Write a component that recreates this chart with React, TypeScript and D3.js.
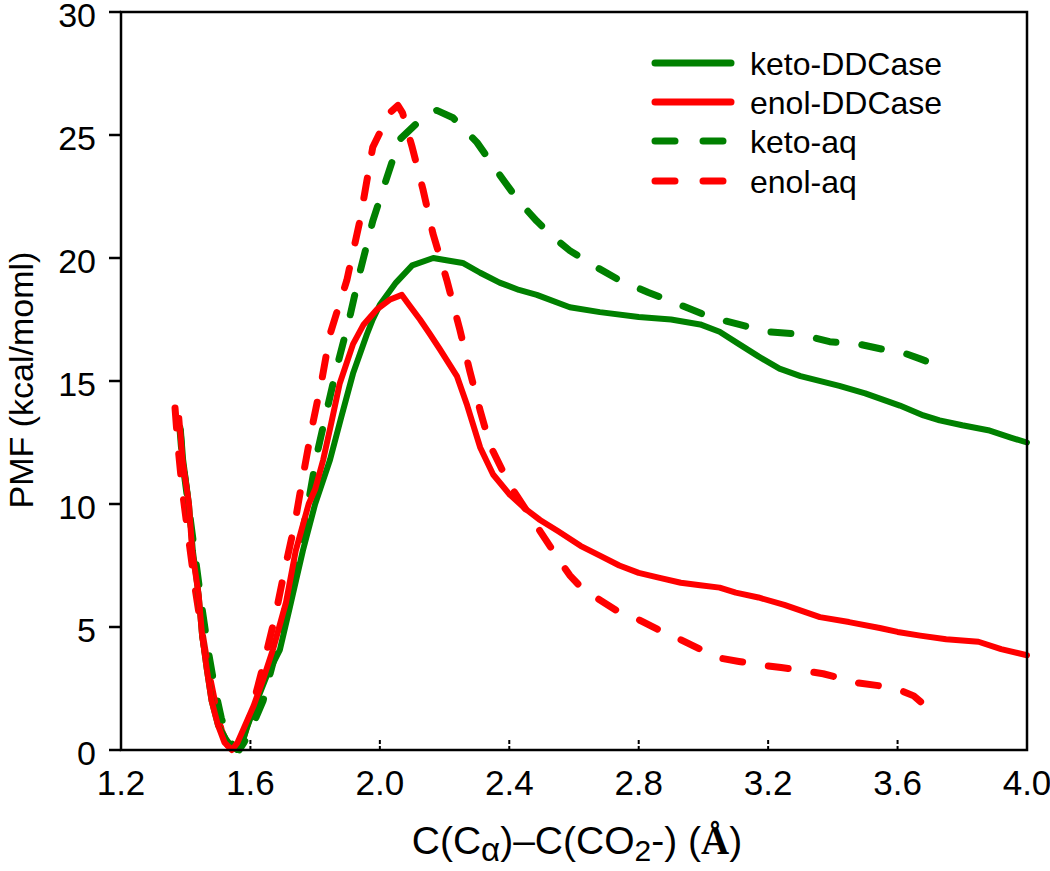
import React from "react";
import * as d3 from "d3";

const xTicks = [1.2, 1.6, 2.0, 2.4, 2.8, 3.2, 3.6, 4.0];
const yTicks = [0, 5, 10, 15, 20, 25, 30];

const ketoDDCaseX = [1.385,1.392,1.41,1.422,1.44,1.45,1.465,1.48,1.50,1.527,1.545,1.558,1.575,1.589,1.62,1.65,1.691,1.72,1.762,1.80,1.846,1.88,1.917,1.96,1.978,2.0,2.05,2.10,2.165,2.21,2.256,2.31,2.37,2.43,2.485,2.587,2.68,2.8,2.9,2.99,3.05,3.11,3.17,3.235,3.30,3.42,3.50,3.607,3.68,3.73,3.80,3.88,3.95,4.0];
const ketoDDCaseY = [13.0,11.8,10.0,8.1,6.3,4.75,3.3,2.0,1.0,0.4,0.1,0.0,0.3,0.9,2.0,3.0,4.07,5.7,8.1,10.0,11.8,13.5,15.3,16.9,17.5,18.1,19.0,19.7,20.0,19.9,19.8,19.4,19.0,18.7,18.5,18.0,17.8,17.6,17.5,17.3,17.0,16.5,16.0,15.5,15.2,14.8,14.5,14.0,13.6,13.4,13.2,13.0,12.7,12.5];

const enolDDCaseX = [1.38,1.39,1.41,1.42,1.44,1.45,1.465,1.48,1.50,1.52,1.543,1.56,1.58,1.61,1.64,1.67,1.71,1.74,1.78,1.80,1.825,1.85,1.876,1.917,1.95,1.99,2.03,2.068,2.09,2.124,2.155,2.185,2.238,2.27,2.31,2.35,2.4,2.45,2.495,2.55,2.62,2.68,2.74,2.8,2.865,2.93,2.99,3.05,3.1,3.17,3.25,3.36,3.45,3.545,3.6,3.67,3.75,3.85,3.92,4.0];
const enolDDCaseY = [13.5,11.8,10.0,8.1,6.3,4.75,3.3,2.0,1.0,0.3,0.0,0.3,0.9,1.8,2.9,4.1,6.0,8.1,10.0,10.6,11.8,13.3,14.9,16.5,17.3,17.9,18.3,18.5,18.1,17.5,16.9,16.3,15.2,14.0,12.3,11.2,10.4,9.8,9.35,8.9,8.3,7.9,7.5,7.2,7.0,6.8,6.7,6.6,6.4,6.2,5.9,5.4,5.2,4.96,4.8,4.65,4.5,4.4,4.1,3.85];

const ketoAqX = [1.382,1.39,1.41,1.43,1.45,1.47,1.49,1.51,1.53,1.55,1.565,1.58,1.60,1.639,1.68,1.713,1.744,1.775,1.805,1.836,1.866,1.907,1.938,1.978,2.02,2.06,2.10,2.14,2.176,2.226,2.30,2.38,2.43,2.485,2.54,2.587,2.66,2.74,2.83,2.927,3.02,3.11,3.2,3.297,3.39,3.48,3.55,3.606,3.67,3.72];
const ketoAqY = [13.1,11.8,9.8,7.8,5.8,4.0,2.5,1.3,0.5,0.1,0.0,0.3,0.8,2.0,4.07,6.1,7.85,9.76,12.0,13.8,15.5,17.6,19.4,21.5,23.2,24.8,25.3,25.8,26.0,25.7,24.7,23.2,22.3,21.5,20.8,20.3,19.7,19.1,18.6,18.1,17.6,17.3,17.0,16.9,16.6,16.5,16.3,16.2,15.9,15.65];

const enolAqX = [1.367,1.375,1.39,1.41,1.43,1.45,1.47,1.49,1.51,1.53,1.548,1.565,1.58,1.598,1.639,1.676,1.707,1.737,1.762,1.79,1.82,1.846,1.898,1.938,1.978,2.03,2.056,2.07,2.10,2.133,2.164,2.207,2.247,2.278,2.31,2.34,2.4,2.45,2.495,2.54,2.587,2.63,2.68,2.74,2.8,2.86,2.927,2.99,3.05,3.11,3.174,3.24,3.297,3.37,3.43,3.48,3.55,3.606,3.65,3.683];
const enolAqY = [13.9,12.5,10.5,8.5,6.5,4.8,3.2,1.9,0.8,0.2,0.0,0.1,0.6,1.35,3.4,5.4,7.4,9.2,11.1,13.1,15.0,16.9,19.1,21.5,24.5,25.9,26.2,25.9,24.5,22.8,21.0,19.1,17.1,15.4,13.8,12.4,10.8,9.8,8.9,8.0,7.1,6.5,6.1,5.6,5.3,4.9,4.5,4.1,3.74,3.6,3.46,3.35,3.25,3.1,2.9,2.72,2.6,2.44,2.2,1.83];

const seriesNames = ["keto-DDCase", "enol-DDCase", "keto-aq", "enol-aq"];
const seriesColors = ["#008000", "#ff0000", "#008000", "#ff0000"];
const seriesDashed = [false, false, true, true];
const seriesData = [
  [ketoDDCaseX, ketoDDCaseY],
  [enolDDCaseX, enolDDCaseY],
  [ketoAqX, ketoAqY],
  [enolAqX, enolAqY],
];

const FONT = "'Liberation Sans', Arial, Helvetica, sans-serif";

export default function App() {
  const left = 121, right = 1027, top = 12, bottom = 750;
  const x = d3.scaleLinear().domain([1.2, 4.0]).range([left, right]);
  const y = d3.scaleLinear().domain([0, 30]).range([bottom, top]);
  const line = d3.line<[number, number]>().x(d => x(d[0])).y(d => y(d[1]));

  const legendY = [63, 102, 141, 181];

  return (
    <svg width={1050} height={871} style={{ position: "absolute", left: 0, top: 0 }} fontFamily={FONT}>
      <rect x={0} y={0} width={1050} height={871} fill="#fff" />
      {[2, 3, 0, 1].map(i => {
        const [xs, ys] = seriesData[i];
        const pts = xs.map((v, k) => [v, ys[k]] as [number, number]);
        return (
          <path key={i} d={line(pts) || ""} fill="none" stroke={seriesColors[i]}
            strokeWidth={seriesDashed[i] ? 7 : 6} strokeLinecap="round" strokeLinejoin="round"
            strokeDasharray={seriesDashed[i] ? "20,26" : undefined} />
        );
      })}
      <rect x={left} y={top} width={right - left} height={bottom - top} fill="none" stroke="#000" strokeWidth={2.5} />
      {yTicks.map(t => (
        <g key={t}>
          <line x1={left - 12} x2={left} y1={y(t)} y2={y(t)} stroke="#000" strokeWidth={2.5} />
          <text x={96} y={y(t) + 15} textAnchor="end" fontSize={34} fill="#000">{t}</text>
        </g>
      ))}
      {xTicks.map(t => (
        <g key={t}>
          <line x1={x(t)} x2={x(t)} y1={bottom} y2={bottom - 11} stroke="#000" strokeWidth={2} strokeDasharray="4,2" />
          <text x={x(t)} y={795} textAnchor="middle" fontSize={35} fill="#000">{t.toFixed(1)}</text>
        </g>
      ))}
      <text x={577} y={854} fontSize={39} fill="#000" textAnchor="middle">
        C(C<tspan fontSize={33} dy={7}>α</tspan><tspan dy={-7}>)–C(CO</tspan><tspan fontSize={30} dy={7}>2</tspan><tspan dy={-7}>-) (</tspan><tspan fontFamily="'Liberation Serif', 'Times New Roman', serif" fontWeight="bold">Å</tspan>)
      </text>
      <text transform={`translate(33,380) rotate(-90)`} textAnchor="middle" fontSize={34} fill="#000">PMF (kcal/moml)</text>
      {seriesNames.map((n, i) => (
        <g key={n}>
          <line x1={655} x2={731} y1={legendY[i]} y2={legendY[i]} stroke={seriesColors[i]} strokeWidth={7}
            strokeLinecap="round" strokeDasharray={seriesDashed[i] ? "20,28" : undefined} />
          <text x={750} y={legendY[i] + 12} fontSize={32} fill="#000">{n}</text>
        </g>
      ))}
    </svg>
  );
}
